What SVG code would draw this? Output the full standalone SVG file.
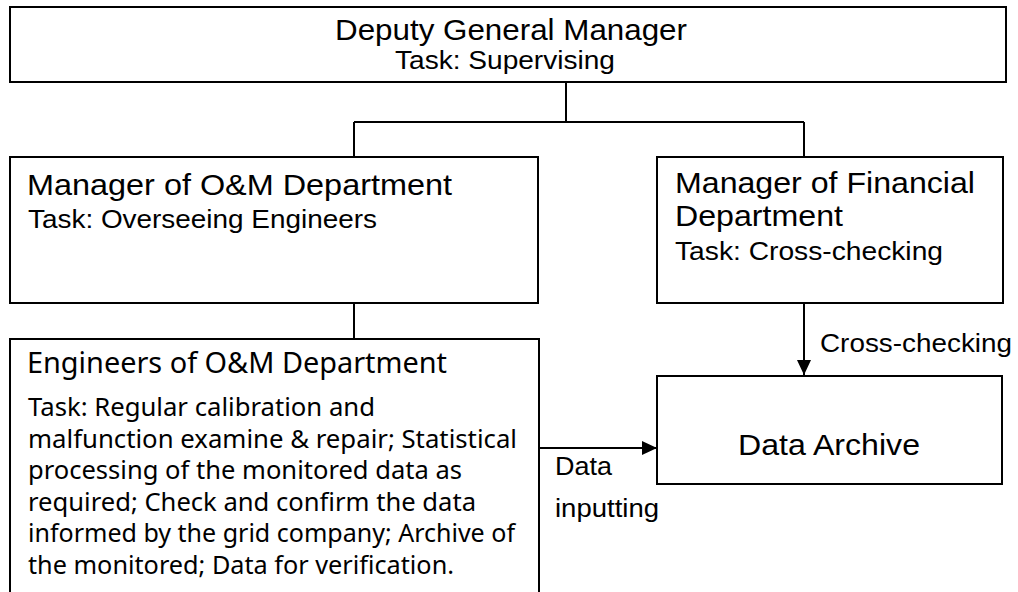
<svg xmlns="http://www.w3.org/2000/svg" width="1018" height="592" viewBox="0 0 1018 592">
<defs>
<style>
.box{fill:#fff;stroke:#000;stroke-width:2}
.ln{fill:none;stroke:#000;stroke-width:2}
.h{font-family:"Liberation Sans",Arial,sans-serif;font-size:30px;fill:#000}
.t{font-family:"Liberation Sans",Arial,sans-serif;font-size:25px;fill:#000}
.e{font-family:"Noto Sans","Liberation Sans",sans-serif;fill:#000}
</style>
<marker id="arr" markerWidth="15" markerHeight="14" refX="15" refY="7" orient="auto" markerUnits="userSpaceOnUse" viewBox="0 0 15 14">
<path d="M0,0 L15,7 L0,14 z" fill="#000"/>
</marker>
</defs>
<rect width="1018" height="592" fill="#fff"/>
<g id="connectors">
<path class="ln" d="M566,82 V122 M354,122 H804 M354,122 V157 M804,122 V157"/>
<path class="ln" d="M354,303 V339"/>
<path class="ln" d="M804,303 V375" marker-end="url(#arr)"/>
<path class="ln" d="M539,448 H657" marker-end="url(#arr)"/>
<text class="t" x="820" y="352" textLength="192" lengthAdjust="spacingAndGlyphs">Cross-checking</text>
<text class="t" x="555" y="475" textLength="57" lengthAdjust="spacingAndGlyphs">Data</text>
<text class="t" x="555" y="517" textLength="104" lengthAdjust="spacingAndGlyphs">inputting</text>
</g>
<g id="deputy">
<rect class="box" x="10" y="7" width="996" height="75"/>
<text class="h" x="335" y="40" textLength="352" lengthAdjust="spacingAndGlyphs">Deputy General Manager</text>
<text class="t" x="395" y="69" textLength="220" lengthAdjust="spacingAndGlyphs">Task: Supervising</text>
</g>
<g id="om-manager">
<rect class="box" x="10" y="157" width="528" height="146"/>
<text class="h" x="27" y="195" textLength="425" lengthAdjust="spacingAndGlyphs">Manager of O&amp;M Department</text>
<text class="t" x="28" y="228" textLength="349" lengthAdjust="spacingAndGlyphs">Task: Overseeing Engineers</text>
</g>
<g id="fin-manager">
<rect class="box" x="657" y="157" width="346" height="146"/>
<text class="h" x="675" y="193" textLength="300" lengthAdjust="spacingAndGlyphs">Manager of Financial</text>
<text class="h" x="675" y="226" textLength="168" lengthAdjust="spacingAndGlyphs">Department</text>
<text class="t" x="675" y="260" textLength="268" lengthAdjust="spacingAndGlyphs">Task: Cross-checking</text>
</g>
<g id="om-engineers">
<rect class="box" x="10" y="339" width="529" height="270"/>
<text class="e" x="27" y="373" font-size="29" textLength="420" lengthAdjust="spacingAndGlyphs">Engineers of O&amp;M Department</text>
<g class="e" font-size="25">
<text x="28" y="416" textLength="347" lengthAdjust="spacingAndGlyphs">Task: Regular calibration and</text>
<text x="28" y="447.5" textLength="489" lengthAdjust="spacingAndGlyphs">malfunction examine &amp; repair; Statistical</text>
<text x="28" y="479" textLength="434" lengthAdjust="spacingAndGlyphs">processing of the monitored data as</text>
<text x="28" y="510.5" textLength="448" lengthAdjust="spacingAndGlyphs">required; Check and confirm the data</text>
<text x="28" y="542" textLength="487" lengthAdjust="spacingAndGlyphs">informed by the grid company; Archive of</text>
<text x="28" y="573.5" textLength="426" lengthAdjust="spacingAndGlyphs">the monitored; Data for verification.</text>
</g>
</g>
<g id="data-archive">
<rect class="box" x="657" y="376" width="345" height="108"/>
<text class="h" x="738" y="455" textLength="182" lengthAdjust="spacingAndGlyphs">Data Archive</text>
</g>
</svg>
